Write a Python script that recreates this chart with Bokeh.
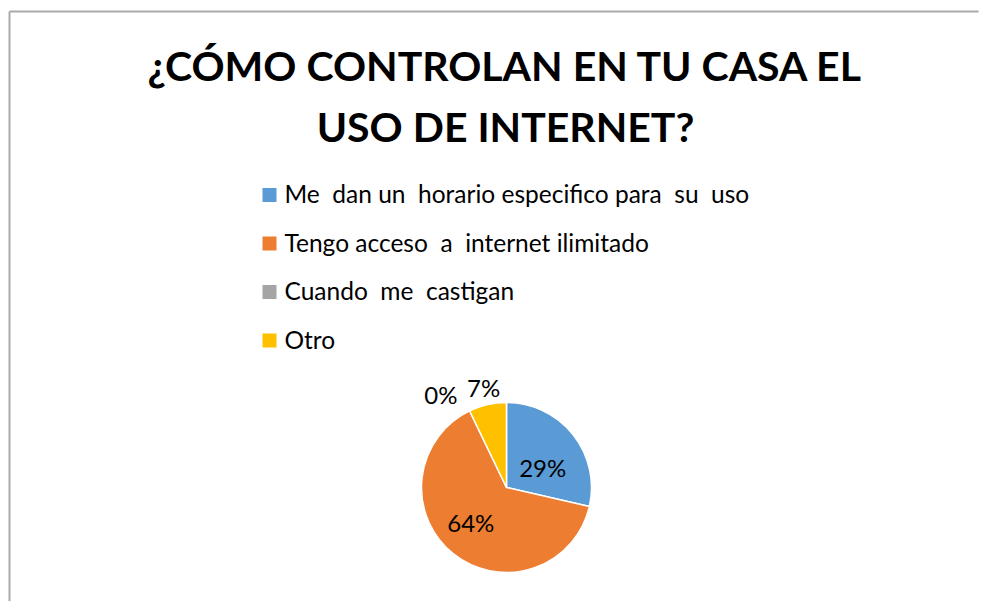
import math
from bokeh.plotting import figure
from bokeh.models import Range1d, ColumnDataSource
from bokeh.core.properties import value
from bokeh.embed import file_html
from bokeh.resources import INLINE

# ---- data ----
title_lines = ["¿CÓMO CONTROLAN EN TU CASA EL", "USO DE INTERNET?"]
categories = ["Me  dan un  horario especifico para  su  uso",
              "Tengo acceso  a  internet ilimitado",
              "Cuando  me  castigan",
              "Otro"]
counts = [4, 9, 0, 1]
colors = ["#5B9BD5", "#ED7D31", "#A5A5A5", "#FFC000"]

# ---- layout (pixels in figure space, y up) ----
W, H = 981, 601
FONT = "Lato"
cx, cy, R = 506, 114, 85
label_dist = [0.56, 0.56, 1.21, 1.21]
label_nudge = [(-1, -10), (-6, 2), (-21, 0), (0, 0)]

p = figure(width=W, height=H, output_backend="svg", toolbar_location=None,
           x_range=Range1d(0, W), y_range=Range1d(0, H),
           min_border=0, min_border_left=0, min_border_right=0,
           min_border_top=0, min_border_bottom=0)
p.axis.visible = False
p.grid.visible = False
p.outline_line_color = None
p.background_fill_color = "white"
p.border_fill_color = "white"

# chart border (left + top visible)
p.segment(x0=[9, 9], y0=[0, 590], x1=[9, W - 3], y1=[590, 590],
          line_color="#a9a9a9", line_width=2)

# title
p.text(x=[505, 505], y=[536, 475], text=title_lines, text_align="center",
       text_baseline="middle", text_font=value(FONT), text_font_style="bold",
       text_font_size="41px", text_color="black")

# pie
total = sum(counts)
fracs = [c / total for c in counts]
starts, ends, mids = [], [], []
cum = 0.0
for f in fracs:
    a0 = math.pi / 2 - cum * 2 * math.pi
    cum += f
    a1 = math.pi / 2 - cum * 2 * math.pi
    starts.append(a0)
    ends.append(a1)
    mids.append((a0 + a1) / 2)

keep = [i for i, c in enumerate(counts) if c > 0]
src = ColumnDataSource(dict(start=[starts[i] for i in keep],
                            end=[ends[i] for i in keep],
                            color=[colors[i] for i in keep]))
p.wedge(x=cx, y=cy, radius=R, start_angle="start", end_angle="end",
        direction="clock", fill_color="color", line_color="white",
        line_width=1.5, source=src)

# labels
lx, ly, lt = [], [], []
for i, (f, m) in enumerate(zip(fracs, mids)):
    d = label_dist[i] * R
    lx.append(cx + d * math.cos(m) + label_nudge[i][0])
    ly.append(cy + d * math.sin(m) + label_nudge[i][1])
    lt.append(f"{round(f * 100)}%")
p.text(x=lx, y=ly, text=lt, text_align="center", text_baseline="middle",
       text_font=value(FONT), text_font_size="24px", text_color="black")

# legend
leg_y0, leg_step = 406.5, 48.5
sq_y = [leg_y0 - i * leg_step for i in range(len(categories))]
disp = [c.replace("  ", "\u00a0 ") for c in categories]
p.rect(x=[269] * len(categories), y=sq_y, width=14, height=14,
       width_units="screen", height_units="screen",
       fill_color=colors, line_color=None)
p.text(x=[284] * len(categories), y=[v + 1.5 for v in sq_y], text=disp,
       text_align="left", text_baseline="middle", text_font=value(FONT),
       text_font_size="24.5px", text_color="black")

open("out.html", "w").write(file_html(p, INLINE))
